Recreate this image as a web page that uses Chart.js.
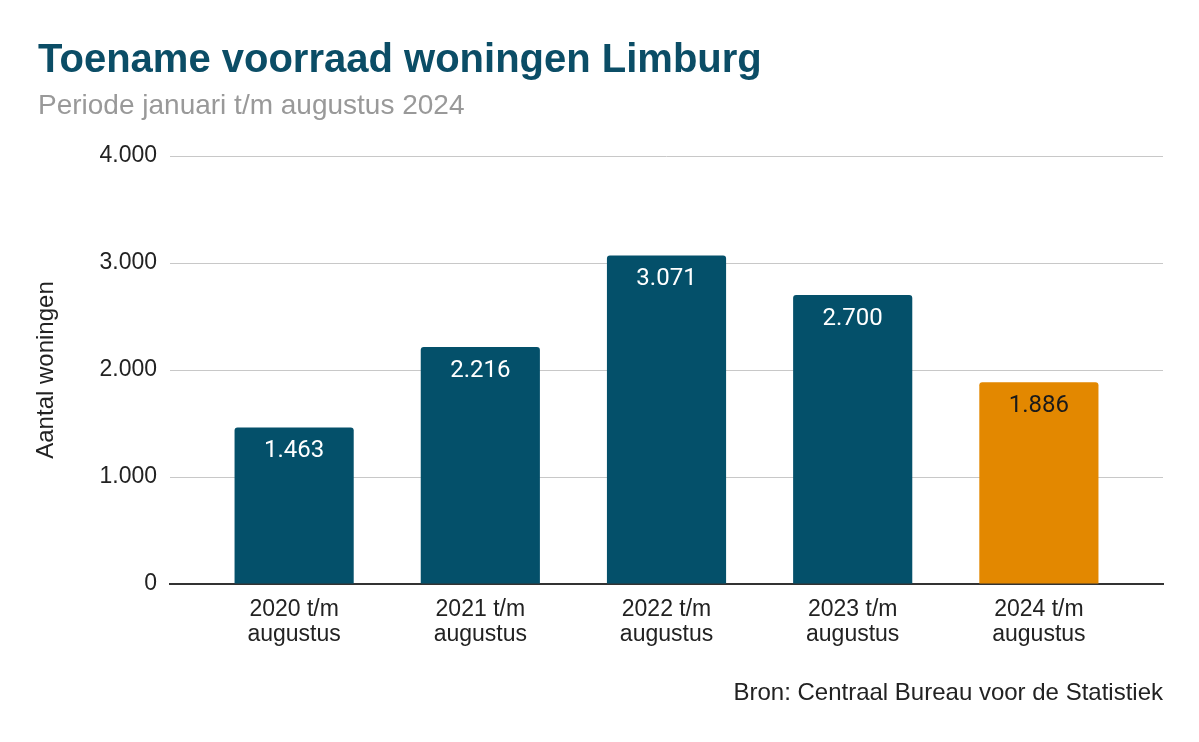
<!DOCTYPE html>
<html>
<head>
<meta charset="utf-8">
<script src="https://cdn.jsdelivr.net/npm/chart.js@4/dist/chart.umd.min.js"></script>
<style>
    body { margin: 0; background: #fff; }
    #wrap { position: relative; width: 1199px; height: 742px; }
    #wrap div { position: absolute; white-space: nowrap; line-height: 1; font-family: "Liberation Sans", Arial, sans-serif; }
    #title { left: 38px; top: 38px; font-weight: bold; font-size: 40px; color: #0b4d66; }
    #subtitle { left: 38px; top: 91px; font-size: 28px; color: #999; }
    #source { right: 36px; top: 680px; font-size: 24px; color: #222; }
    canvas { position: absolute; left: 0; top: 0; }
</style>
</head>
<body>
<div id="wrap">
    <canvas id="barChart" width="1199" height="742"></canvas>
    <div id="title">Toename voorraad woningen Limburg</div>
    <div id="subtitle">Periode januari t/m augustus 2024</div>
    <div id="source">Bron: Centraal Bureau voor de Statistiek</div>
</div>
<script>
// data
const categories = [
    ['2020 t/m', 'augustus'],
    ['2021 t/m', 'augustus'],
    ['2022 t/m', 'augustus'],
    ['2023 t/m', 'augustus'],
    ['2024 t/m', 'augustus']
];
const woningen = [1463, 2216, 3071, 2700, 1886];
const yTicks = [0, 1000, 2000, 3000, 4000];

const teal = '#04506a';
const orange = '#e38800';
const barColors = woningen.map((v, i) => i === woningen.length - 1 ? orange : teal);
const labelColors = woningen.map((v, i) => i === woningen.length - 1 ? '#1a1a1a' : '#ffffff');

// Dutch thousands separator
function formatNL(n) {
    return String(n).replace(/\B(?=(\d{3})+(?!\d))/g, '.');
}

// draws the value inside the top of every bar
const barLabels = {
    id: 'barLabels',
    afterDatasetsDraw(chart) {
        const ctx = chart.ctx;
        const meta = chart.getDatasetMeta(0);
        ctx.save();
        ctx.font = '24px Roboto, sans-serif';
        ctx.textAlign = 'center';
        ctx.textBaseline = 'middle';
        meta.data.forEach((bar, i) => {
            ctx.fillStyle = labelColors[i];
            ctx.fillText(formatNL(woningen[i]), bar.x, bar.y + 24);
        });
        ctx.restore();
    }
};

const axisFont = { family: '"Liberation Sans", Arial, sans-serif', size: 23, lineHeight: 1.08 };

const ctx = document.getElementById('barChart').getContext('2d');
new Chart(ctx, {
    type: 'bar',
    data: {
        labels: categories,
        datasets: [{
            data: woningen,
            backgroundColor: barColors,
            borderRadius: { topLeft: 3, topRight: 3 },
            borderSkipped: 'bottom',
            barPercentage: 1,
            categoryPercentage: 0.64
        }]
    },
    options: {
        responsive: false,
        animation: false,
        layout: { padding: { top: 156, right: 36, bottom: 0, left: 0 } },
        plugins: {
            legend: { display: false },
            tooltip: { enabled: false }
        },
        scales: {
            x: {
                afterFit(scale) { scale.height = 158; },
                // leave some room at both ends of the axis, like the original
                afterBuildTicks(scale) {
                    scale._startValue -= 0.1667;
                    scale._valueRange += 0.3333;
                },
                grid: { display: false },
                border: { color: '#333', width: 2 },
                ticks: { color: '#222', font: axisFont, padding: 5, maxRotation: 0 }
            },
            y: {
                min: 0,
                max: 4000,
                afterFit(scale) { scale.width = 170; },
                afterBuildTicks(scale) { scale.ticks = yTicks.map(v => ({ value: v })); },
                border: { display: false },
                grid: {
                    color: (c) => c.tick && c.tick.value === 0 ? 'rgba(0,0,0,0)' : '#c8c8c8',
                    drawTicks: false
                },
                ticks: {
                    color: '#222',
                    font: { family: axisFont.family, size: 23 },
                    padding: 13,
                    callback: (v) => formatNL(v)
                },
                title: {
                    display: true,
                    text: 'Aantal woningen',
                    color: '#222',
                    font: { family: axisFont.family, size: 24 },
                    padding: { top: 32, bottom: 0 }
                }
            }
        }
    },
    plugins: [barLabels]
});
</script>
</body>
</html>
